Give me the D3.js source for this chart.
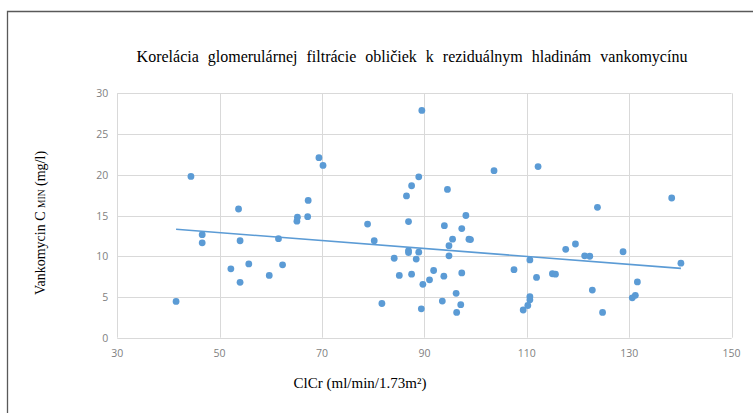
<!DOCTYPE html>
<html>
<head>
<meta charset="utf-8">
<script src="https://cdn.jsdelivr.net/npm/d3@7"></script>
<style>
  body { margin: 0; background: #fff; }
  svg { display: block; }
</style>
</head>
<body>
<div id="chart"></div>
<script>
// ClCr (ml/min/1.73m2) and Vankomycin C min (mg/l)
const clcr = [
  41.5, 44.4, 46.6, 46.6, 52.2, 53.7, 54.0, 54.0, 55.7, 59.7,
  61.5, 62.3, 65.1, 65.2, 67.2, 67.3, 69.4, 70.2, 89.5, 88.9,
  87.5, 86.5, 94.5, 103.6, 112.2, 78.9, 86.9, 98.1, 93.9, 97.3,
  80.2, 98.7, 99.0, 95.5, 94.8, 94.8, 86.9, 86.9, 88.9, 84.1,
  88.4, 85.1, 87.5, 91.8, 91.0, 89.7, 93.8, 97.3, 81.7, 93.5,
  96.2, 97.1, 96.3, 89.4, 107.5, 110.6, 111.9, 110.6, 110.6, 110.2,
  109.3, 123.8, 138.3, 117.6, 119.5, 121.3, 122.3, 128.8, 140.1, 115.0,
  115.6, 122.8, 124.8, 131.6, 131.2, 130.6
];
const vanco = [
  4.45, 19.8, 12.65, 11.65, 8.45, 15.8, 11.9, 6.8, 9.05, 7.65,
  12.15, 8.95, 14.3, 14.8, 14.85, 16.85, 22.1, 21.15, 27.9, 19.75,
  18.65, 17.4, 18.2, 20.5, 21.0, 13.95, 14.25, 15.0, 13.75, 13.4,
  11.9, 12.1, 12.05, 12.1, 11.3, 10.05, 10.7, 10.45, 10.5, 9.75,
  9.65, 7.65, 7.8, 8.25, 7.1, 6.55, 7.55, 7.95, 4.2, 4.5,
  5.45, 4.05, 3.1, 3.55, 8.35, 9.55, 7.4, 5.05, 4.65, 3.95,
  3.4, 16.0, 17.15, 10.85, 11.5, 10.05, 10.0, 10.55, 9.15, 7.85,
  7.8, 5.85, 3.1, 6.85, 5.2, 4.9
];
const xTicks = [30, 50, 70, 90, 110, 130, 150];
const yTicks = [0, 5, 10, 15, 20, 25, 30];

const width = 753;
const height = 413;
const margin = { top: 93.3, right: 21.4, bottom: 75.3, left: 117.2 };
const blue = '#5b9bd5';

const points = clcr.map((x, i) => ({ x, y: vanco[i] }));

// least squares trend, like Excel's linear trendline
const mx = d3.mean(points, d => d.x);
const my = d3.mean(points, d => d.y);
const slope = d3.sum(points, d => (d.x - mx) * (d.y - my)) / d3.sum(points, d => (d.x - mx) ** 2);
const intercept = my - slope * mx;
const xExt = d3.extent(clcr);
const trend = xExt.map(x => ({ x, y: intercept + slope * x }));

const scaleX = d3.scaleLinear().domain([30, 150]).range([margin.left, width - margin.right]);
const scaleY = d3.scaleLinear().domain([0, 30]).range([height - margin.bottom, margin.top]);

const $svg = d3.select('#chart').append('svg')
  .attr('width', width)
  .attr('height', height);

// outer frame (only top and left edges show)
$svg.append('path')
  .attr('d', `M7.5,${height} V11.5 H${width}`)
  .attr('fill', 'none')
  .attr('stroke', '#595959')
  .attr('stroke-width', 1.3);

$svg.append('text')
  .attr('x', 412)
  .attr('y', 62)
  .attr('text-anchor', 'middle')
  .attr('font-family', '"Liberation Serif", serif')
  .attr('font-size', 16)
  .attr('word-spacing', 5)
  .attr('fill', '#000')
  .text('Korelácia glomerulárnej filtrácie obličiek k reziduálnym hladinám vankomycínu');

// grid
const $grid = $svg.append('g').attr('stroke', '#d9d9d9').attr('stroke-width', 1);
$grid.selectAll('.gx').data(xTicks).join('line')
  .attr('x1', d => Math.round(scaleX(d)) + 0.5)
  .attr('x2', d => Math.round(scaleX(d)) + 0.5)
  .attr('y1', scaleY(30))
  .attr('y2', scaleY(0));
$grid.selectAll('.gy').data(yTicks).join('line')
  .attr('x1', scaleX(30))
  .attr('x2', scaleX(150))
  .attr('y1', d => Math.round(scaleY(d)) + 0.5)
  .attr('y2', d => Math.round(scaleY(d)) + 0.5);

// tick labels
const tickFont = '"Open Sans", sans-serif';
$svg.append('g').selectAll('text').data(yTicks).join('text')
  .attr('x', scaleX(30) - 9)
  .attr('y', d => scaleY(d) + 4)
  .attr('text-anchor', 'end')
  .attr('font-family', tickFont)
  .attr('font-size', 10.5)
  .attr('fill', '#7f7f7f')
  .text(d => d);
$svg.append('g').selectAll('text').data(xTicks).join('text')
  .attr('x', d => scaleX(d))
  .attr('y', scaleY(0) + 19)
  .attr('text-anchor', 'middle')
  .attr('font-family', tickFont)
  .attr('font-size', 10.5)
  .attr('fill', '#7f7f7f')
  .text(d => d);

// axis titles
const $yt = $svg.append('text')
  .attr('transform', 'translate(45,223) rotate(-90)')
  .attr('text-anchor', 'middle')
  .attr('font-family', '"Liberation Serif", serif')
  .attr('font-size', 14)
  .attr('fill', '#000');
$yt.append('tspan').text('Vankomycin C ');
$yt.append('tspan').attr('font-size', 9.5).text('MIN');
$yt.append('tspan').text(' (mg/l)');

$svg.append('text')
  .attr('x', 360)
  .attr('y', 388)
  .attr('text-anchor', 'middle')
  .attr('font-family', '"Liberation Serif", serif')
  .attr('font-size', 15)
  .attr('fill', '#000')
  .text('ClCr (ml/min/1.73m²)');

// points
$svg.append('g').selectAll('circle').data(points).join('circle')
  .attr('cx', d => scaleX(d.x))
  .attr('cy', d => scaleY(d.y))
  .attr('r', 3.4)
  .attr('fill', blue);

// trend line
$svg.append('path')
  .datum(trend)
  .attr('d', d3.line().x(d => scaleX(d.x)).y(d => scaleY(d.y)))
  .attr('fill', 'none')
  .attr('stroke', blue)
  .attr('stroke-width', 1.6);
</script>
</body>
</html>
